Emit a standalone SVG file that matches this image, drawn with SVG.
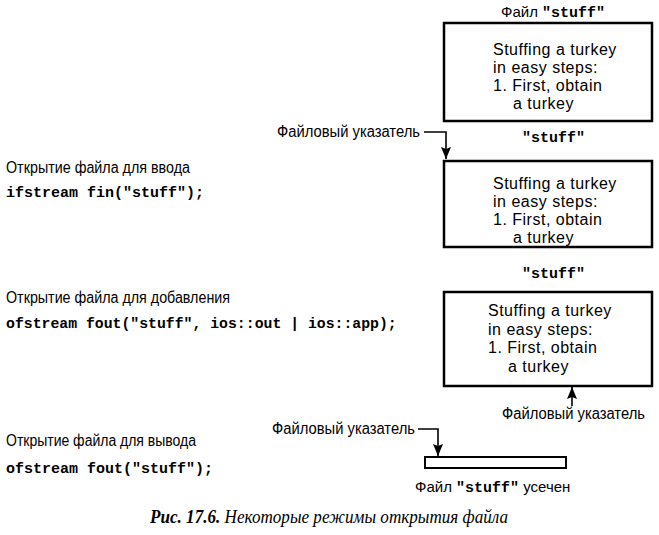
<svg xmlns="http://www.w3.org/2000/svg" width="659" height="535" viewBox="0 0 659 535">
<style>
.sans{font-family:"Liberation Sans",Arial,sans-serif;font-size:15px;fill:#000}
.lbl{font-family:"Liberation Sans",Arial,sans-serif;font-size:16px;fill:#000}
.mono{font-family:"Liberation Mono","Courier New",monospace;font-weight:bold;font-size:15px;fill:#000}
.bt{font-family:"Liberation Sans",Arial,sans-serif;font-size:16px;letter-spacing:0.5px;fill:#000}
.box{fill:#fff;stroke:#000;stroke-width:2.5}
.conn{fill:none;stroke:#000;stroke-width:1.6}
.cap{font-family:"Liberation Serif","Times New Roman",serif;font-style:italic;font-size:18px;fill:#000}
</style>
<defs>
<marker id="ah" viewBox="0 0 12 10" refX="12" refY="5" markerWidth="12" markerHeight="10" markerUnits="userSpaceOnUse" orient="auto">
<path d="M0,0 L12,5 L0,10 L2,5 z" fill="#000"/>
</marker>
</defs>
<rect width="659" height="535" fill="#fff"/>

<g id="file-title">
<text x="501" y="17" class="sans">Файл <tspan class="mono">"stuff"</tspan></text>
</g>

<g id="box-original">
<rect class="box" x="444" y="23" width="208" height="98"/>
<text class="bt" x="493" y="55">Stuffing a turkey</text>
<text class="bt" x="493" y="73">in easy steps:</text>
<text class="bt" x="493" y="91">1. First, obtain</text>
<text class="bt" x="513" y="109">a turkey</text>
</g>

<g id="label-in">
<text class="lbl" x="6" y="173" textLength="184" lengthAdjust="spacingAndGlyphs">Открытие файла для ввода</text>
<text class="mono" x="6" y="197">ifstream fin("stuff");</text>
</g>

<g id="ptr-in">
<text class="lbl" x="277" y="137" textLength="143" lengthAdjust="spacingAndGlyphs">Файловый указатель</text>
</g>

<g id="box-in">
<text class="mono" x="522" y="142">"stuff"</text>
<rect class="box" x="444" y="161" width="208" height="86"/>
<text class="bt" x="493" y="189">Stuffing a turkey</text>
<text class="bt" x="493" y="207">in easy steps:</text>
<text class="bt" x="493" y="225">1. First, obtain</text>
<text class="bt" x="513" y="243">a turkey</text>
</g>

<g id="label-app">
<text class="lbl" x="6" y="303" textLength="224" lengthAdjust="spacingAndGlyphs">Открытие файла для добавления</text>
<text class="mono" x="6" y="328" style="font-size:14.8px">ofstream fout("stuff", ios::out | ios::app);</text>
</g>

<g id="box-app">
<text class="mono" x="522" y="278">"stuff"</text>
<rect class="box" x="444" y="292" width="208" height="94"/>
<text class="bt" x="488" y="316">Stuffing a turkey</text>
<text class="bt" x="488" y="334.5">in easy steps:</text>
<text class="bt" x="488" y="353">1. First, obtain</text>
<text class="bt" x="508" y="371.5">a turkey</text>
</g>

<g id="ptr-app">
<text class="lbl" x="502" y="419" textLength="143" lengthAdjust="spacingAndGlyphs">Файловый указатель</text>
</g>

<g id="label-out">
<text class="lbl" x="6" y="446" textLength="190" lengthAdjust="spacingAndGlyphs">Открытие файла для вывода</text>
<text class="mono" x="6" y="473">ofstream fout("stuff");</text>
</g>

<g id="ptr-out">
<text class="lbl" x="272" y="434" textLength="143" lengthAdjust="spacingAndGlyphs">Файловый указатель</text>
</g>

<g id="box-out">
<rect x="425" y="457" width="141" height="11" fill="#fff" stroke="#000" stroke-width="2"/>
<text class="sans" x="415" y="492">Файл <tspan class="mono">"stuff"</tspan> усечен</text>
</g>

<g id="connectors">
<path class="conn" d="M424,132 H446 V159" marker-end="url(#ah)"/>
<path class="conn" d="M572,406 V387" marker-end="url(#ah)"/>
<path class="conn" d="M418,429 H438 V456" marker-end="url(#ah)"/>
</g>

<g id="caption">
<text class="cap" x="150" y="523" textLength="358" lengthAdjust="spacingAndGlyphs"><tspan font-weight="bold">Рис. 17.6.</tspan> Некоторые режимы открытия файла</text>
</g>
</svg>
